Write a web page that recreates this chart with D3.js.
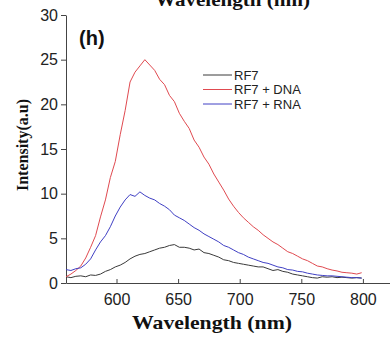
<!DOCTYPE html>
<html>
<head>
<meta charset="utf-8">
<script src="https://cdn.jsdelivr.net/npm/d3@7"></script>
<style>
  body { margin: 0; background: #fff; }
  svg { display: block; }
</style>
</head>
<body>
<svg></svg>
<script>
// wavelength (nm), step 4
const wavelengths = d3.range(559, 800, 4);

const rf7 = [0.7, 0.6, 0.75, 0.8, 0.7, 0.9, 0.85, 1.0, 1.3, 1.5, 1.8, 2.0, 2.3, 2.7, 3.0, 3.2,
  3.3, 3.5, 3.7, 3.9, 4.0, 4.2, 4.3, 4.0, 4.0, 3.9, 3.7, 3.8, 3.4, 3.3, 3.1, 2.9, 2.6, 2.5,
  2.3, 2.2, 2.1, 2.0, 1.9, 1.8, 1.8, 1.6, 1.4, 1.5, 1.3, 1.2, 1.0, 0.9, 0.8, 0.7, 0.6, 0.55,
  0.7, 0.65, 0.7, 0.6, 0.65, 0.6, 0.55, 0.6, 0.55];

const rf7Dna = [0.7, 1.0, 1.4, 1.9, 2.8, 4.0, 5.3, 7.4, 9.3, 11.8, 13.6, 16.6, 19.3, 22.5, 23.6,
  24.3, 25.0, 24.4, 23.8, 22.8, 22.2, 21.0, 20.3, 19.0, 18.1, 17.3, 16.0, 15.2, 14.1, 13.3,
  12.2, 11.3, 10.4, 9.4, 8.6, 7.9, 7.3, 6.8, 6.3, 5.9, 5.4, 5.0, 4.6, 4.3, 3.9, 3.5, 3.3, 3.0,
  2.7, 2.5, 2.2, 1.9, 1.8, 1.6, 1.45, 1.35, 1.2, 1.15, 1.1, 1.0, 1.15];

const rf7Rna = [1.5, 1.4, 1.6, 1.7, 2.1, 2.7, 3.7, 4.6, 5.3, 6.3, 7.5, 8.5, 9.3, 9.9, 9.7, 10.2,
  9.8, 9.5, 9.3, 8.9, 8.6, 8.2, 7.6, 7.3, 7.0, 6.6, 6.2, 5.9, 5.5, 5.2, 4.9, 4.6, 4.2, 4.0,
  3.7, 3.4, 3.2, 2.9, 2.7, 2.5, 2.3, 2.2, 2.0, 1.8, 1.7, 1.5, 1.45, 1.3, 1.25, 1.1, 1.0, 0.9,
  0.85, 0.8, 0.8, 0.75, 0.7, 0.65, 0.6, 0.6, 0.55];

const seriesNames = ['RF7', 'RF7 + DNA', 'RF7 + RNA'];
const seriesColors = ['#3a3a3a', '#e04a50', '#4040c4'];
const xTicks = [600, 650, 700, 750, 800];
const yTicks = [0, 5, 10, 15, 20, 25, 30];

let width = 390;
let height = 341;

let svg = d3.select('svg')
  .attr('width', width)
  .attr('height', height);

let xScale = d3.scaleLinear().domain([559, 822]).range([66, 390]);
let yScale = d3.scaleLinear().domain([0, 30]).range([283, 15]);

// cut-off title from the panel above
svg.append('text')
  .attr('x', 155).attr('y', 6)
  .attr('textLength', 155)
  .attr('lengthAdjust', 'spacingAndGlyphs')
  .attr('font-family', 'Liberation Serif, serif')
  .attr('font-weight', 'bold')
  .attr('font-size', 19)
  .attr('fill', '#111')
  .text('Wavelength (nm)');

// axes
let xAxis = d3.axisBottom(xScale).tickValues(xTicks).tickSizeInner(-4).tickSizeOuter(0).tickPadding(11);
let yAxis = d3.axisLeft(yScale).tickValues(yTicks).tickSizeInner(5).tickSizeOuter(0).tickPadding(3);

let gx = svg.append('g')
  .attr('transform', 'translate(0,283)')
  .call(xAxis);
let gy = svg.append('g')
  .attr('transform', 'translate(66,0)')
  .call(yAxis);

[gx, gy].forEach(g => {
  g.select('.domain').attr('stroke', '#444');
  g.selectAll('.tick line').attr('stroke', '#444');
  g.selectAll('.tick text')
    .attr('font-family', 'Liberation Sans, Arial, sans-serif')
    .attr('font-size', 16)
    .attr('fill', '#222');
});
gx.selectAll('.tick text').attr('dy', '0.71em');

// lines
let line = d3.line()
  .x((d, i) => xScale(wavelengths[i]))
  .y(d => yScale(d));

[rf7, rf7Dna, rf7Rna].forEach((s, i) => {
  svg.append('path')
    .datum(s)
    .attr('fill', 'none')
    .attr('stroke', seriesColors[i])
    .attr('stroke-width', 1)
    .attr('d', line);
});

// panel letter
svg.append('text')
  .attr('x', 79).attr('y', 45)
  .attr('font-family', 'Liberation Sans, Arial, sans-serif')
  .attr('font-weight', 'bold')
  .attr('font-size', 20)
  .attr('fill', '#111')
  .text('(h)');

// legend
let legend = svg.append('g').attr('transform', 'translate(203,75)');
seriesNames.forEach((name, i) => {
  let row = legend.append('g').attr('transform', 'translate(0,' + (i * 14.5) + ')');
  row.append('line')
    .attr('x1', 0).attr('x2', 29)
    .attr('stroke', seriesColors[i]);
  row.append('text')
    .attr('x', 31).attr('y', 4.5)
    .attr('font-family', 'Liberation Sans, Arial, sans-serif')
    .attr('font-size', 13)
    .attr('fill', '#222')
    .text(name);
});

// axis titles
svg.append('text')
  .attr('x', 132).attr('y', 329)
  .attr('textLength', 160)
  .attr('lengthAdjust', 'spacingAndGlyphs')
  .attr('font-family', 'Liberation Serif, serif')
  .attr('font-weight', 'bold')
  .attr('font-size', 19)
  .attr('fill', '#111')
  .text('Wavelength (nm)');

svg.append('text')
  .attr('transform', 'translate(28,145) rotate(-90)')
  .attr('text-anchor', 'middle')
  .attr('font-family', 'Liberation Serif, serif')
  .attr('font-weight', 'bold')
  .attr('font-size', 16)
  .attr('fill', '#111')
  .text('Intensity(a.u)');
</script>
</body>
</html>
